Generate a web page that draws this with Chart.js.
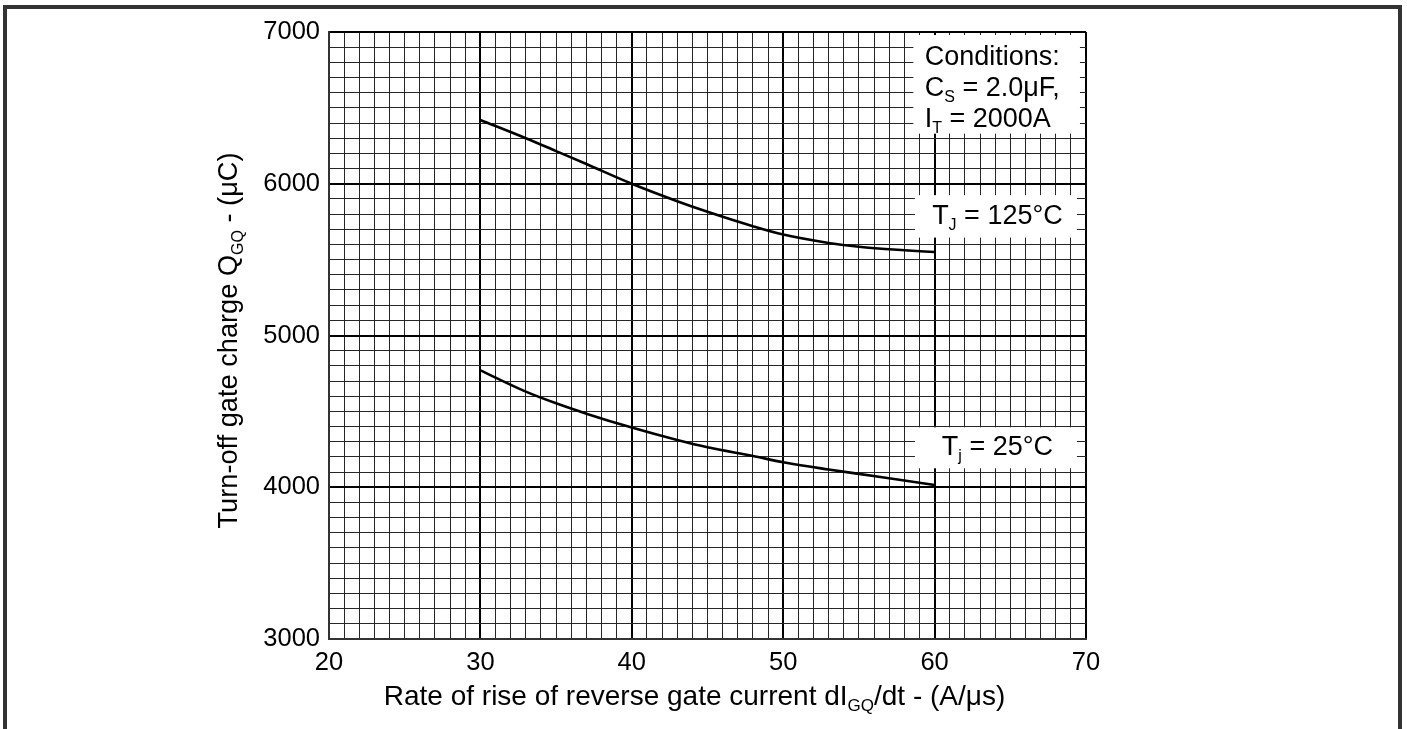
<!DOCTYPE html>
<html>
<head>
<meta charset="utf-8">
<script src="https://cdn.jsdelivr.net/npm/chart.js@4/dist/chart.umd.min.js"></script>
<style>
  html, body { margin: 0; padding: 0; background: #fff; }
  #wrap { width: 1407px; height: 729px; }
</style>
</head>
<body>
<div id="wrap"><canvas id="qgq-chart" width="1407" height="729"></canvas></div>
<script>
// rate of rise of reverse gate current dIGQ/dt (A/us)
const dIdt = [30, 33, 35, 37, 40, 43, 45, 48, 50, 53, 55, 58, 60];
// turn-off gate charge QGQ (uC)
const qgqTj125 = [6420, 6300, 6215, 6130, 6000, 5885, 5815, 5720, 5665, 5610, 5585, 5562, 5550];
const qgqTj25 = [4770, 4630, 4553, 4485, 4393, 4311, 4263, 4206, 4165, 4117, 4088, 4045, 4015];

const xMin = 20, xMax = 70;
const yMin = 3000, yMax = 7000;

const FONT = '"Liberation Sans", Arial, sans-serif';

// text pieces, sub = subscript
const yTitle = [{t: 'Turn-off gate charge Q'}, {t: 'GQ', sub: true}, {t: ' - (μC)'}];
const xTitle = [{t: 'Rate of rise of reverse gate current dI'}, {t: 'GQ', sub: true}, {t: '/dt - (A/μs)'}];
const condLines = [
  [{t: 'Conditions:'}],
  [{t: 'C'}, {t: 'S', sub: true}, {t: ' = 2.0μF,'}],
  [{t: 'I'}, {t: 'T', sub: true}, {t: ' = 2000A'}]
];
const label125 = [{t: 'T'}, {t: 'J', sub: true}, {t: ' = 125°C'}];
const label25 = [{t: 'T'}, {t: 'j', sub: true}, {t: ' = 25°C'}];

function drawRich(ctx, parts, x, y, align, size) {
  const subSize = Math.round(size * 0.6);
  let w = 0;
  parts.forEach(p => {
    ctx.font = (p.sub ? subSize : size) + 'px ' + FONT;
    w += ctx.measureText(p.t).width;
  });
  let cx = align === 'center' ? x - w / 2 : x;
  ctx.textAlign = 'left';
  ctx.textBaseline = 'middle';
  ctx.fillStyle = '#000';
  parts.forEach(p => {
    ctx.font = (p.sub ? subSize : size) + 'px ' + FONT;
    ctx.fillText(p.t, cx, p.sub ? y + 9 : y);
    cx += ctx.measureText(p.t).width;
  });
}

const framePlugin = {
  id: 'frame',
  beforeDraw(chart) {
    const ctx = chart.ctx;
    ctx.save();
    ctx.fillStyle = '#333';
    ctx.fillRect(3, 5, 4, 724);
    ctx.fillRect(3, 5, 1399, 4);
    ctx.fillRect(1398, 5, 4, 724);
    ctx.restore();
  }
};

const notesPlugin = {
  id: 'notes',
  beforeDatasetsDraw(chart) {
    const ctx = chart.ctx;
    const xs = chart.scales.x, ys = chart.scales.y;
    const area = chart.chartArea;
    ctx.save();
    // white label boxes over the grid
    const boxes = [
      [58.6, 69.6, 6980, 6330],
      [58.7, 69.4, 5925, 5645],
      [58.7, 69.4, 4395, 4125]
    ];
    ctx.fillStyle = '#fff';
    boxes.forEach(b => {
      const x0 = xs.getPixelForValue(b[0]), x1 = xs.getPixelForValue(b[1]);
      const y0 = ys.getPixelForValue(b[2]), y1 = ys.getPixelForValue(b[3]);
      ctx.fillRect(x0, y0, x1 - x0, y1 - y0);
    });
    const condY = [6830, 6625, 6425];
    condLines.forEach((line, i) => {
      drawRich(ctx, line, xs.getPixelForValue(59.35), ys.getPixelForValue(condY[i]), 'left', 27);
    });
    drawRich(ctx, label125, xs.getPixelForValue(64.15), ys.getPixelForValue(5785), 'center', 27);
    drawRich(ctx, label25, xs.getPixelForValue(64.15), ys.getPixelForValue(4262), 'center', 27);

    // axis titles
    drawRich(ctx, xTitle, (area.left + area.right) / 2 - 13, 697, 'center', 28);
    ctx.translate(230, (area.top + area.bottom) / 2 + 5);
    ctx.rotate(-Math.PI / 2);
    drawRich(ctx, yTitle, 0, 0, 'center', 27.2);
    ctx.restore();
  }
};

const gridWidth = step => c => (c.tick && c.tick.value % step === 0 ? 2 : 1);
const gridColor = step => c => (c.tick && c.tick.value % step === 0 ? '#000' : '#262626');

new Chart(document.getElementById('qgq-chart').getContext('2d'), {
  type: 'line',
  data: {
    datasets: [
      {
        label: 'Tj = 125°C',
        data: dIdt.map((x, i) => ({x, y: qgqTj125[i]})),
        borderColor: '#000',
        borderWidth: 2.6,
        pointRadius: 0,
        cubicInterpolationMode: 'monotone'
      },
      {
        label: 'Tj = 25°C',
        data: dIdt.map((x, i) => ({x, y: qgqTj25[i]})),
        borderColor: '#000',
        borderWidth: 2.6,
        pointRadius: 0,
        cubicInterpolationMode: 'monotone'
      }
    ]
  },
  options: {
    responsive: false,
    animation: false,
    layout: {padding: {left: 0, top: 32, right: 321, bottom: 0}},
    plugins: {legend: {display: false}, tooltip: {enabled: false}},
    scales: {
      x: {
        type: 'linear',
        min: xMin,
        max: xMax,
        afterFit: s => { s.height = 90; },
        ticks: {
          stepSize: 1,
          maxTicksLimit: 200,
          autoSkip: false,
          maxRotation: 0,
          padding: 9,
          color: '#000',
          font: {family: FONT, size: 25.5},
          callback: v => (v % 10 === 0 ? v : '')
        },
        grid: {drawTicks: false, color: gridColor(10), lineWidth: gridWidth(10)},
        border: {display: true, color: '#333', width: 2}
      },
      y: {
        type: 'linear',
        min: yMin,
        max: yMax,
        afterFit: s => { s.width = 329; },
        ticks: {
          stepSize: 100,
          maxTicksLimit: 200,
          autoSkip: false,
          padding: 9,
          color: '#000',
          font: {family: FONT, size: 25.5},
          callback: v => (v % 1000 === 0 ? v : '')
        },
        grid: {drawTicks: false, color: gridColor(1000), lineWidth: gridWidth(1000)},
        border: {display: true, color: '#333', width: 2}
      }
    }
  },
  plugins: [framePlugin, notesPlugin]
});
</script>
</body>
</html>
